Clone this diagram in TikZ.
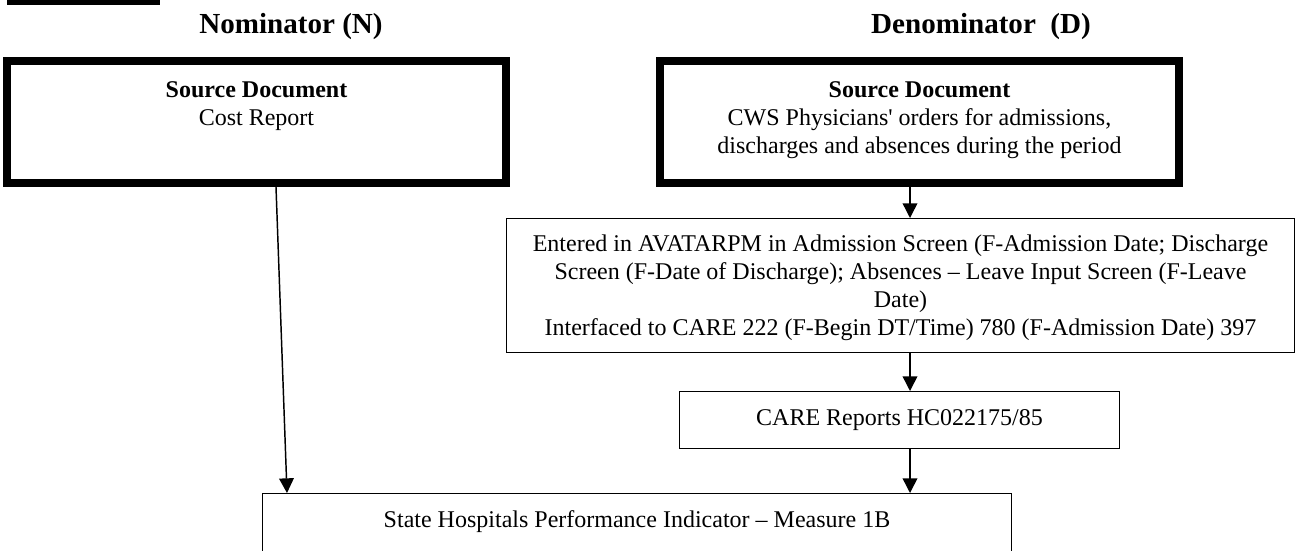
\documentclass[tikz,border=0pt]{standalone}
\usepackage{fontspec}
\setmainfont{Liberation Serif}
\usetikzlibrary{arrows.meta,calc}
\begin{document}
\begin{tikzpicture}[x=0.75pt,y=-0.75pt,
  thickbox/.style={draw, line width=6pt, minimum height=122*0.75pt, anchor=north west, inner sep=0pt},
  thinbox/.style={draw, line width=1.1pt, anchor=north west, inner sep=0pt},
  body/.style={font=\fontsize{18pt}{21pt}\selectfont, inner sep=0pt, align=center, anchor=north},
  head/.style={font=\fontsize{21.8pt}{26pt}\selectfont\bfseries, inner sep=0pt, anchor=base},
  arr/.style={line width=1.1pt, -{Triangle[length=11pt,width=11pt]}}]
\clip (0,0) rectangle (1298,550);
\fill (7,0) rectangle (160,5);

\node[head] (hN) at (291,33) {Nominator (N)};
\node[head] (hD) at (981,33) {Denominator\ \ (D)};

\node[thickbox, minimum width=499*0.75pt] (srcN) at (3,57) {};
\node[thickbox, minimum width=519*0.75pt] (srcD) at (656,57) {};
\node[thinbox, minimum width=787.5*0.75pt, minimum height=133.5*0.75pt] (entered) at (506,218) {};
\node[thinbox, minimum width=439.5*0.75pt, minimum height=56.5*0.75pt] (care) at (679,391) {};
\node[thinbox, minimum width=748.5*0.75pt, minimum height=80*0.75pt] (state) at (262,493) {};

\node[body] (tN) at (256.5,78.3) {\rule{0pt}{14pt}\textbf{Source Document}\\Cost Report};
\node[body] (tD) at (919.5,78.3) {\rule{0pt}{14pt}\textbf{Source Document}\\CWS Physicians\textquotesingle{} orders for admissions,\\discharges and absences during the period};
\node[body] (tE) at (900.5,232.3) {\rule{0pt}{14pt}Entered in AVATARPM in Admission Screen (F-Admission Date; Discharge\\Screen (F-Date of Discharge); Absences – Leave Input Screen (F-Leave\\Date)\\Interfaced to CARE 222 (F-Begin DT/Time) 780 (F-Admission Date) 397};
\node[body] (tC) at (899.5,406.3) {\rule{0pt}{14pt}CARE Reports HC022175/85};
\node[body] (tS) at (637,508.3) {\rule{0pt}{14pt}State Hospitals Performance Indicator – Measure 1B};

\coordinate (ax) at (910,0);
\draw[arr] (srcD.south -| ax) -- (entered.north -| ax);
\draw[arr] (entered.south -| ax) -- (care.north -| ax);
\draw[arr] (care.south -| ax) -- (state.north -| ax);
\draw[arr] ($(srcN.south west)+(273,0)$) -- ($(state.north west)+(25,0)$);
\end{tikzpicture}
\end{document}
